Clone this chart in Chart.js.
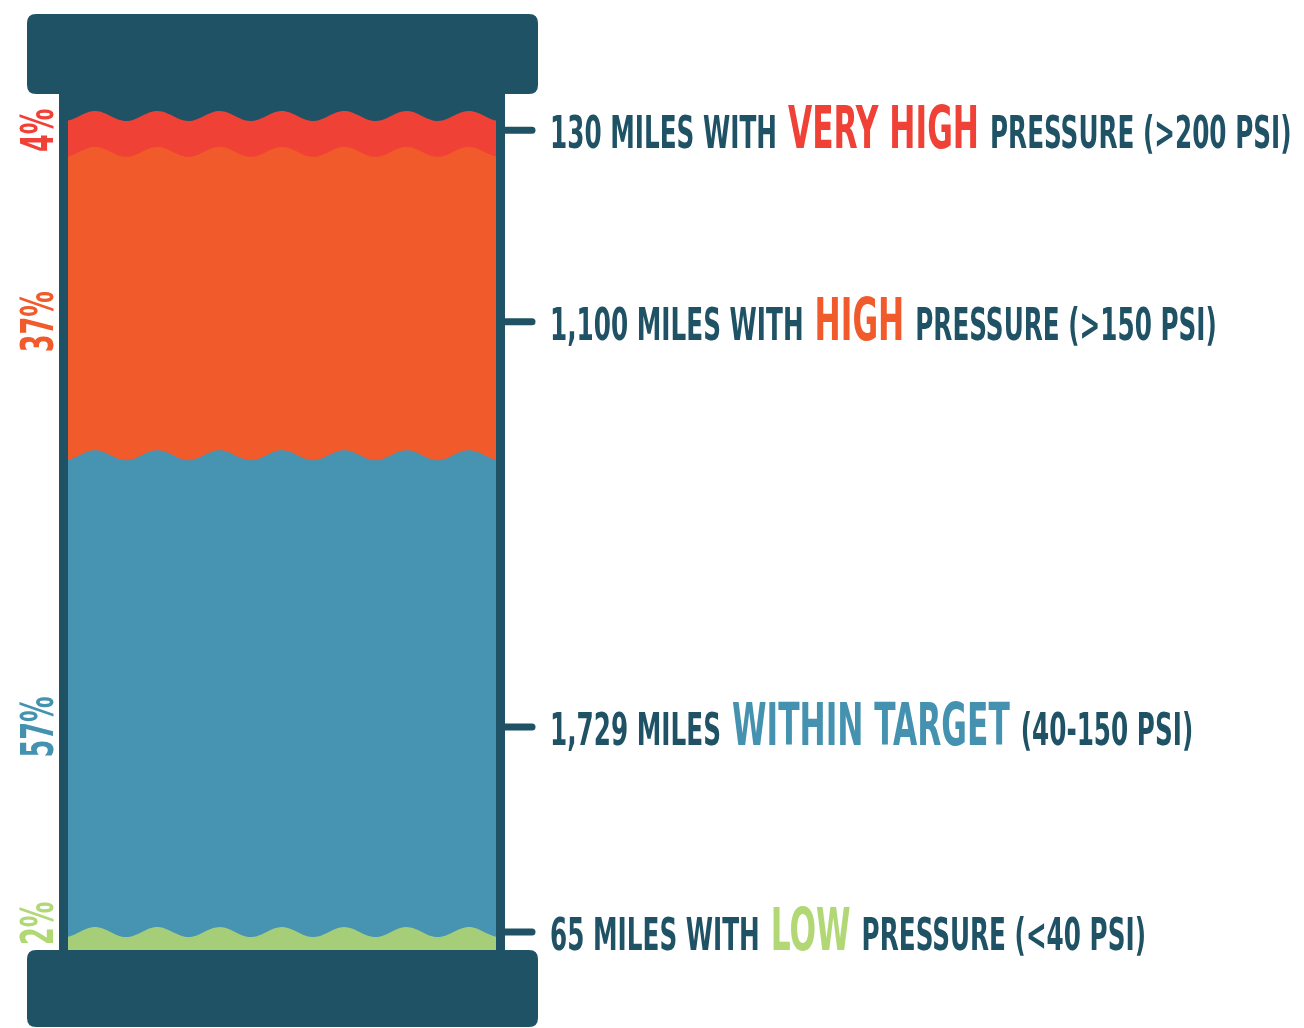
<!DOCTYPE html>
<html>
<head>
<meta charset="utf-8">
<title>Pipe pressure</title>
<script src="https://cdn.jsdelivr.net/npm/chart.js@4.4.1/dist/chart.umd.min.js"></script>
<style>
	html, body { margin: 0; padding: 0; background: #ffffff; }
	canvas { display: block; }
</style>
</head>
<body>
<canvas id="chart" width="1304" height="1028"></canvas>
<script>
// bottom to top, as stacked in the pipe
const categories = ['Pipe'];
const segmentNames = ['Low', 'Within target', 'High', 'Very high'];
const miles = [65, 1729, 1100, 130];
const percents = ['2%', '57%', '37%', '4%'];
const labelPrefix = ['65 MILES WITH', '1,729 MILES', '1,100 MILES WITH', '130 MILES WITH'];
const labelHighlight = ['LOW', 'WITHIN TARGET', 'HIGH', 'VERY HIGH'];
const labelSuffix = ['PRESSURE (<40 PSI)', '(40-150 PSI)', 'PRESSURE (>150 PSI)', 'PRESSURE (>200 PSI)'];

const fillColors = ['#a6ce78', '#4693b2', '#f15a2b', '#ef4136'];
const textColors = ['#b2d775', '#4592b0', '#f15a2b', '#ef4136'];
const dark = '#1e5264';
const FONT = '"Liberation Sans Narrow", "DejaVu Sans Condensed", "Liberation Sans", sans-serif';

// where the callout sits inside each segment (0 = top edge, 1 = bottom edge)
const calloutFrac = [0.0, 0.57, 0.56, 0.4];

let total = miles.reduce((a, b) => a + b, 0);

function roundRect(ctx, x, y, w, h, r) {
	ctx.beginPath();
	ctx.moveTo(x + r, y);
	ctx.lineTo(x + w - r, y);
	ctx.quadraticCurveTo(x + w, y, x + w, y + r);
	ctx.lineTo(x + w, y + h - r);
	ctx.quadraticCurveTo(x + w, y + h, x + w - r, y + h);
	ctx.lineTo(x + r, y + h);
	ctx.quadraticCurveTo(x, y + h, x, y + h - r);
	ctx.lineTo(x, y + r);
	ctx.quadraticCurveTo(x, y, x + r, y);
	ctx.closePath();
}

const pipePlugin = {
	id: 'pipe',
	beforeDatasetsDraw(chart) {
		let ctx = chart.ctx;
		let a = chart.chartArea;
		ctx.save();
		// pipe walls / dark inside
		ctx.fillStyle = dark;
		ctx.fillRect(a.left - 9, a.top - 25, a.right - a.left + 18, a.bottom - a.top + 30);

		// wavy segments, top one first so the lower ones paint over
		let amp = 5, period = 62.3, phase = 95;
		for(let i = chart.data.datasets.length - 1; i >= 0; i--)
		{
			let bar = chart.getDatasetMeta(i).data[0];
			let top = bar.y;
			let left = a.left, right = a.right;
			ctx.beginPath();
			ctx.moveTo(left, a.bottom);
			for(let x = left; x <= right; x += 2)
				ctx.lineTo(x, top - amp * Math.cos(2 * Math.PI * (x - phase) / period));
			ctx.lineTo(right, top - amp * Math.cos(2 * Math.PI * (right - phase) / period));
			ctx.lineTo(right, a.bottom);
			ctx.closePath();
			ctx.fillStyle = chart.data.datasets[i].backgroundColor;
			ctx.fill();
		}
		ctx.restore();
		return false;
	},
	afterDraw(chart) {
		let ctx = chart.ctx;
		let a = chart.chartArea;
		ctx.save();

		// caps
		ctx.fillStyle = dark;
		roundRect(ctx, a.left - 41, 14, a.right - a.left + 83, a.top - 36, 9);
		ctx.fill();
		roundRect(ctx, a.left - 41, a.bottom, a.right - a.left + 83, 77, 9);
		ctx.fill();

		let fontReg = 'bold 44px ' + FONT;
		let fontHi = 'bold 58px ' + FONT;
		let fontPct = 'bold 45px ' + FONT;
		ctx.font = fontReg;
		let sxReg = 227 / ctx.measureText(labelPrefix[3]).width;
		ctx.font = fontHi;
		let sxHi = 191 / ctx.measureText(labelHighlight[3]).width;
		ctx.font = fontPct;
		let sxPct = 61 / ctx.measureText(percents[2]).width;

		for(let i = 0; i < miles.length; i++)
		{
			let bar = chart.getDatasetMeta(i).data[0];
			let y = bar.y + calloutFrac[i] * (bar.base - bar.y);

			// tick
			ctx.strokeStyle = dark;
			ctx.lineWidth = 7;
			ctx.lineCap = 'round';
			ctx.beginPath();
			ctx.moveTo(a.right + 9, y);
			ctx.lineTo(a.right + 36, y);
			ctx.stroke();

			// callout text
			let x = a.right + 54;
			let base = y + 18;
			ctx.textBaseline = 'alphabetic';
			ctx.textAlign = 'left';
			let parts = [
				[labelPrefix[i], fontReg, sxReg, dark],
				[labelHighlight[i], fontHi, sxHi, textColors[i]],
				[labelSuffix[i], fontReg, sxReg, dark],
			];
			for(const [txt, font, sx, color] of parts)
			{
				ctx.font = font;
				ctx.fillStyle = color;
				let w = ctx.measureText(txt).width * sx;
				ctx.save();
				ctx.translate(x, base);
				ctx.scale(sx, 1);
				ctx.fillText(txt, 0, 0);
				ctx.restore();
				x += w + 11;
			}

			// rotated percentage on the left, kept clear of the bottom cap
			ctx.font = fontPct;
			let half = ctx.measureText(percents[i]).width * sxPct / 2;
			let py = Math.min(y, a.bottom - half - 5);
			ctx.save();
			ctx.fillStyle = textColors[i];
			ctx.textAlign = 'center';
			ctx.translate(a.left - 31, py);
			ctx.rotate(-Math.PI / 2);
			ctx.scale(sxPct, 1);
			ctx.fillText(percents[i], 0, 16);
			ctx.restore();
		}
		ctx.restore();
	}
};

new Chart(document.getElementById('chart'), {
	type: 'bar',
	data: {
		labels: categories,
		datasets: segmentNames.map((name, i) => ({
			label: name,
			data: [miles[i]],
			backgroundColor: fillColors[i],
			borderWidth: 0,
			barPercentage: 1,
			categoryPercentage: 1,
		})),
	},
	options: {
		responsive: false,
		animation: false,
		layout: {
			padding: {left: 68, right: 808, top: 116, bottom: 78},
		},
		scales: {
			x: {stacked: true, display: false},
			y: {stacked: true, display: false, min: 0, max: total},
		},
		plugins: {
			legend: {display: false},
			tooltip: {enabled: false},
		},
	},
	plugins: [pipePlugin],
});
</script>
</body>
</html>
